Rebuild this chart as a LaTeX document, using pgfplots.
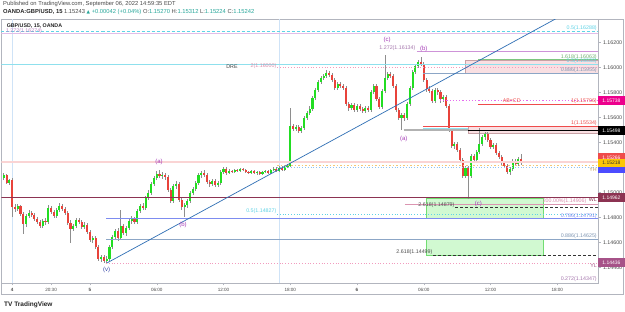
\documentclass[border=0pt]{standalone}
\usepackage{pgfplots}
\pgfplotsset{compat=1.18}
\usepackage{pgfplotstable}
\usepackage{fontspec}
\setmainfont{Liberation Sans}
\newfontfamily\dejavu{DejaVu Sans}
\definecolor{up}{HTML}{22DD22}
\definecolor{dn}{HTML}{E8433B}
\definecolor{wick}{HTML}{8E8E8E}
\definecolor{tvcyan}{HTML}{5FD3E6}
\definecolor{tvpurple}{HTML}{CE93D8}
\definecolor{wavep}{HTML}{A63DB8}
\definecolor{wavev}{HTML}{3646A8}
\definecolor{fibgreen}{HTML}{7CC67F}
\definecolor{bluegray}{HTML}{8CA6C6}
\definecolor{periw}{HTML}{7D8CF0}
\definecolor{pinkdot}{HTML}{F29BBE}
\definecolor{magdot}{HTML}{E66CF0}
\definecolor{tvred}{HTML}{EF4B4B}
\definecolor{wlmaroon}{HTML}{8C3352}
\definecolor{mauve}{HTML}{A65288}
\definecolor{boxgreen}{HTML}{C9F8C9}
\definecolor{boxgreenb}{HTML}{72DD72}
\definecolor{boxpink}{HTML}{F8D8DB}
\definecolor{boxpinkb}{HTML}{C8A2A6}
\definecolor{axisgray}{HTML}{B2B5BE}
\definecolor{txtgray}{HTML}{4A4A4A}
\definecolor{tvteal}{HTML}{26A69A}
\definecolor{yeldot}{HTML}{F5C878}
\definecolor{bluedot}{HTML}{8EC3F5}
\definecolor{lpink}{HTML}{FAD4D4}
\definecolor{session}{HTML}{CFE3F7}
\newcommand{\fibfont}{\fontsize{5.3}{6}\selectfont}
\newcommand{\ticfont}{\fontsize{5.3}{6}\selectfont}
\newcommand{\timefont}{\fontsize{4.6}{5}\selectfont}
\newcommand{\wavefont}{\fontsize{6}{7}\selectfont}
\pgfplotstableread{
t o h l c
-7.75 1.15118 1.15158 1.15102 1.15142
-7.5 1.15142 1.15150 1.15070 1.15078
-7.25 1.15078 1.15110 1.15062 1.15102
-7 1.15102 1.15118 1.14806 1.14886
-6.75 1.14886 1.14910 1.14846 1.14870
-6.5 1.14870 1.14910 1.14854 1.14894
-6.25 1.14894 1.14902 1.14814 1.14830
-6 1.14830 1.14846 1.14670 1.14750
-5.75 1.14750 1.14830 1.14726 1.14814
-5.5 1.14814 1.14862 1.14798 1.14838
-5.25 1.14838 1.14854 1.14806 1.14822
-5 1.14822 1.14838 1.14774 1.14790
-4.75 1.14790 1.14806 1.14750 1.14766
-4.5 1.14766 1.14782 1.14718 1.14734
-4.25 1.14734 1.14790 1.14718 1.14774
-4 1.14774 1.14798 1.14742 1.14766
-3.75 1.14766 1.14902 1.14750 1.14878
-3.5 1.14878 1.14894 1.14830 1.14846
-3.25 1.14846 1.14862 1.14798 1.14814
-3 1.14814 1.14878 1.14798 1.14862
-2.75 1.14862 1.14918 1.14846 1.14894
-2.5 1.14894 1.14910 1.14854 1.14870
-2.25 1.14870 1.14886 1.14822 1.14838
-2 1.14838 1.14854 1.14742 1.14758
-1.75 1.14758 1.14782 1.14598 1.14710
-1.5 1.14710 1.14750 1.14694 1.14734
-1.25 1.14734 1.14798 1.14718 1.14782
-1 1.14782 1.14798 1.14750 1.14766
-0.75 1.14766 1.14782 1.14710 1.14726
-0.5 1.14726 1.14766 1.14710 1.14742
-0.25 1.14742 1.14758 1.14670 1.14686
0 1.14686 1.14702 1.14606 1.14622
0.25 1.14622 1.14654 1.14598 1.14638
0.5 1.14638 1.14654 1.14550 1.14566
0.75 1.14566 1.14582 1.14454 1.14470
1 1.14470 1.14502 1.14446 1.14486
1.25 1.14486 1.14502 1.14438 1.14454
1.5 1.14454 1.14494 1.14438 1.14470
1.75 1.14470 1.14582 1.14454 1.14566
2 1.14566 1.14662 1.14550 1.14646
2.25 1.14646 1.14710 1.14630 1.14694
2.5 1.14694 1.14718 1.14614 1.14638
2.75 1.14638 1.14862 1.14622 1.14734
3 1.14734 1.14750 1.14662 1.14678
3.25 1.14678 1.14734 1.14654 1.14718
3.5 1.14718 1.14798 1.14702 1.14774
3.75 1.14774 1.14814 1.14750 1.14790
4 1.14790 1.14806 1.14750 1.14766
4.25 1.14766 1.14870 1.14750 1.14854
4.5 1.14854 1.14910 1.14838 1.14894
4.75 1.14894 1.14918 1.14862 1.14878
5 1.14878 1.14974 1.14862 1.14958
5.25 1.14958 1.15022 1.14942 1.14998
5.5 1.14998 1.15086 1.14982 1.15070
5.75 1.15070 1.15134 1.15054 1.15118
6 1.15118 1.15174 1.15102 1.15150
6.25 1.15150 1.15182 1.15118 1.15134
6.5 1.15134 1.15166 1.15110 1.15142
6.75 1.15142 1.15158 1.15102 1.15126
7 1.15126 1.15142 1.15006 1.15022
7.25 1.15022 1.15038 1.14918 1.14934
7.5 1.14934 1.15070 1.14918 1.15054
7.75 1.15054 1.15094 1.15030 1.15070
8 1.15070 1.15086 1.14926 1.14942
8.25 1.14942 1.14958 1.14862 1.14886
8.5 1.14886 1.14918 1.14806 1.14902
8.75 1.14902 1.14950 1.14878 1.14934
9 1.14934 1.15014 1.14918 1.14998
9.25 1.14998 1.15046 1.14982 1.15030
9.5 1.15030 1.15094 1.15014 1.15078
9.75 1.15078 1.15158 1.15062 1.15142
10 1.15142 1.15174 1.15118 1.15158
10.25 1.15158 1.15182 1.15126 1.15142
10.5 1.15142 1.15158 1.15070 1.15086
10.75 1.15086 1.15102 1.15046 1.15070
11 1.15070 1.15110 1.15054 1.15094
11.25 1.15094 1.15110 1.15046 1.15062
11.5 1.15062 1.15094 1.15046 1.15078
11.75 1.15078 1.15182 1.15062 1.15166
12 1.15166 1.15206 1.15150 1.15190
12.25 1.15190 1.15206 1.15142 1.15158
12.5 1.15158 1.15190 1.15150 1.15174
12.75 1.15174 1.15182 1.15158 1.15166
13 1.15166 1.15190 1.15158 1.15182
13.25 1.15182 1.15190 1.15166 1.15174
13.5 1.15174 1.15198 1.15166 1.15190
13.75 1.15190 1.15198 1.15174 1.15182
14 1.15182 1.15190 1.15158 1.15166
14.25 1.15166 1.15174 1.15150 1.15158
14.5 1.15158 1.15182 1.15150 1.15174
14.75 1.15174 1.15182 1.15150 1.15158
15 1.15158 1.15174 1.15142 1.15166
15.25 1.15166 1.15174 1.15142 1.15150
15.5 1.15150 1.15174 1.15142 1.15166
15.75 1.15166 1.15182 1.15158 1.15174
16 1.15174 1.15182 1.15150 1.15158
16.25 1.15158 1.15190 1.15150 1.15182
16.5 1.15182 1.15206 1.15174 1.15190
16.75 1.15190 1.15206 1.15166 1.15174
17 1.15174 1.15214 1.15166 1.15198
17.25 1.15198 1.15214 1.15174 1.15182
17.5 1.15182 1.15222 1.15174 1.15206
17.75 1.15206 1.15230 1.15198 1.15214
18 1.15214 1.15678 1.15206 1.15534
18.25 1.15534 1.15550 1.15494 1.15510
18.5 1.15510 1.15542 1.15494 1.15526
18.75 1.15526 1.15542 1.15478 1.15494
19 1.15494 1.15534 1.15478 1.15518
19.25 1.15518 1.15614 1.15502 1.15598
19.5 1.15598 1.15654 1.15582 1.15638
19.75 1.15638 1.15694 1.15622 1.15670
20 1.15670 1.15774 1.15654 1.15758
20.25 1.15758 1.15838 1.15742 1.15822
20.5 1.15822 1.15902 1.15806 1.15886
20.75 1.15886 1.15934 1.15870 1.15918
21 1.15918 1.15950 1.15902 1.15934
21.25 1.15934 1.15982 1.15918 1.15958
21.5 1.15958 1.15974 1.15926 1.15942
21.75 1.15942 1.15958 1.15886 1.15902
22 1.15902 1.15918 1.15822 1.15838
22.25 1.15838 1.15886 1.15822 1.15870
22.5 1.15870 1.15886 1.15838 1.15854
22.75 1.15854 1.15870 1.15822 1.15838
23 1.15838 1.15854 1.15694 1.15710
23.25 1.15710 1.15726 1.15654 1.15678
23.5 1.15678 1.15718 1.15662 1.15702
23.75 1.15702 1.15718 1.15646 1.15662
24 1.15662 1.15710 1.15646 1.15694
24.25 1.15694 1.15710 1.15654 1.15670
24.5 1.15670 1.15686 1.15638 1.15654
24.75 1.15654 1.15694 1.15638 1.15678
25 1.15678 1.15694 1.15646 1.15662
25.25 1.15662 1.15822 1.15646 1.15806
25.5 1.15806 1.15870 1.15790 1.15854
25.75 1.15854 1.15870 1.15734 1.15750
26 1.15750 1.15766 1.15670 1.15686
26.25 1.15686 1.15830 1.15670 1.15814
26.5 1.15814 1.16102 1.15798 1.15918
26.75 1.15918 1.15966 1.15902 1.15950
27 1.15950 1.15966 1.15918 1.15934
27.25 1.15934 1.15950 1.15838 1.15854
27.5 1.15854 1.15870 1.15646 1.15662
27.75 1.15662 1.15678 1.15582 1.15598
28 1.15598 1.15638 1.15502 1.15622
28.25 1.15622 1.15638 1.15574 1.15598
28.5 1.15598 1.15726 1.15582 1.15710
28.75 1.15710 1.15854 1.15694 1.15838
29 1.15838 1.15982 1.15822 1.15966
29.25 1.15966 1.16030 1.15950 1.16014
29.5 1.16014 1.16062 1.15998 1.16046
29.75 1.16046 1.16086 1.16014 1.16030
30 1.16030 1.16046 1.15886 1.15902
30.25 1.15902 1.15918 1.15806 1.15830
30.5 1.15830 1.15854 1.15798 1.15814
30.75 1.15814 1.15830 1.15718 1.15734
31 1.15734 1.15838 1.15718 1.15822
31.25 1.15822 1.15838 1.15782 1.15806
31.5 1.15806 1.15822 1.15718 1.15750
31.75 1.15750 1.15782 1.15726 1.15766
32 1.15766 1.15782 1.15678 1.15694
32.25 1.15694 1.15710 1.15486 1.15502
32.5 1.15502 1.15518 1.15358 1.15374
32.75 1.15374 1.15406 1.15350 1.15390
33 1.15390 1.15406 1.15326 1.15342
33.25 1.15342 1.15358 1.15246 1.15262
33.5 1.15262 1.15278 1.15118 1.15134
33.75 1.15134 1.15214 1.15118 1.15198
34 1.15198 1.15214 1.14950 1.15134
34.25 1.15134 1.15310 1.15118 1.15294
34.5 1.15294 1.15310 1.15246 1.15262
34.75 1.15262 1.15342 1.15246 1.15326
35 1.15326 1.15518 1.15310 1.15390
35.25 1.15390 1.15462 1.15374 1.15446
35.5 1.15446 1.15486 1.15422 1.15470
35.75 1.15470 1.15486 1.15406 1.15422
36 1.15422 1.15438 1.15350 1.15366
36.25 1.15366 1.15398 1.15350 1.15382
36.5 1.15382 1.15398 1.15302 1.15318
36.75 1.15318 1.15334 1.15270 1.15286
37 1.15286 1.15302 1.15222 1.15238
37.25 1.15238 1.15254 1.15198 1.15214
37.5 1.15214 1.15230 1.15150 1.15166
37.75 1.15166 1.15206 1.15142 1.15190
38 1.15190 1.15270 1.15174 1.15254
38.25 1.15254 1.15270 1.15214 1.15230
38.5 1.15230 1.15286 1.15214 1.15270
38.75 1.15270 1.15312 1.15224 1.15242
}\candles
\newcommand{\flab}[4][south east]{\node[anchor=#1, font=\fibfont, text=#2, inner sep=0.4pt] at (axis cs:45.6,#3) {#4};}
\newcommand{\hlev}[4]{\addplot[#1] coordinates {(#2,#4) (#3,#4)};}
\newcommand{\pbox}[4]{\node[anchor=west, fill=#1, text=#2, font=\fontsize{5}{5}\selectfont, inner sep=0pt, minimum width=26.5pt, minimum height=8.4pt] at (axis cs:45.66,#3) {#4};}
\begin{document}
\begin{tikzpicture}
\path[use as bounding box] (0pt,0pt) rectangle (625pt,312pt);
\fill[white] (0pt,0pt) rectangle (625pt,312pt);
% header
\node[anchor=west, inner sep=0pt, text=txtgray, font=\fontsize{5.8}{6}\selectfont] at (3pt,307.5pt) {Published on TradingView.com, September 06, 2022 14:59:35 EDT};
\node[anchor=west, inner sep=0pt, text=txtgray, font=\fontsize{5.8}{6}\selectfont] at (3pt,300pt) {\textbf{\color{black!85}OANDA:GBP/USD, 15} 1.15243 {\color{tvteal}\dejavu\fontsize{4.5}{5}\selectfont ▲} {\color{tvteal}+0.00042 (+0.04\%)} O:{\color{tvteal}1.15270} H:{\color{tvteal}1.15312} L:{\color{tvteal}1.15224} C:{\color{tvteal}1.15242}};
% outer frame
\draw[axisgray, line width=0.5pt] (1.5pt,18pt) rectangle (623.5pt,292.5pt);
\begin{axis}[
 at={(1.5pt,29pt)}, anchor=south west, width=596.5pt, height=263.5pt, scale only axis,
 xmin=-7.955, xmax=45.66, ymin=1.142776, ymax=1.163856,
 clip mode=individual,
 axis line style={draw=axisgray, line width=0.5pt},
 ytick={1.144,1.146,1.148,1.150,1.152,1.154,1.156,1.158,1.160,1.162},
 ytick pos=right, yticklabel pos=right,
 scaled y ticks=false,
 yticklabel style={/pgf/number format/.cd, fixed, fixed zerofill, precision=5, assume math mode=true, /tikz/.cd, font=\ticfont, text=txtgray, xshift=-1pt},
 xtick={-7,-3.5,0,6,12,18,24,30,36,42},
 xticklabels={\textbf{4},20:30,\textbf{5},06:00,12:00,18:00,\textbf{6},06:00,12:00,18:00},
 xtick pos=bottom,
 xticklabel style={font=\timefont, text=txtgray, yshift=1pt},
 tick align=outside, major tick length=2.5pt,
 tick style={draw=axisgray, line width=0.4pt},
]
% session breaks
\addplot[session, line width=0.6pt] coordinates {(-7,1.142776) (-7,1.163856)};
\addplot[session, line width=0.6pt] coordinates {(17,1.142776) (17,1.163856)};
% boxes
\addplot[fill=boxpink, draw=boxpinkb, line width=0.5pt, fill opacity=0.8] coordinates {(33.71,1.15955) (45.66,1.15955) (45.66,1.16063) (33.71,1.16063)} -- cycle;
\addplot[fill=boxpink, draw=boxpinkb, line width=0.5pt, fill opacity=0.8] coordinates {(33.98,1.15478) (45.66,1.15478) (45.66,1.15534) (33.98,1.15534)} -- cycle;
\addplot[fill=boxgreen, draw=boxgreenb, line width=0.5pt, fill opacity=0.85] coordinates {(30.2,1.14798) (40.72,1.14798) (40.72,1.14958) (30.2,1.14958)} -- cycle;
\addplot[fill=boxgreen, draw=boxgreenb, line width=0.5pt, fill opacity=0.85] coordinates {(30.2,1.14502) (40.72,1.14502) (40.72,1.14630) (30.2,1.14630)} -- cycle;
% candles
\addplot[draw=none, mark=none, error bars/.cd, y dir=both, y explicit, error mark=none, error bar style={line width=0.6pt, draw=wick}]
 table[x=t, y expr={0.5*(\thisrow{h}+\thisrow{l})}, y error expr={0.5*(\thisrow{h}-\thisrow{l})}] {\candles};
\addplot[draw=none, mark=none, restrict y to domain=1:2, error bars/.cd, y dir=both, y explicit, error mark=none, error bar style={line width=2.1pt, draw=up}]
 table[x=t, y expr={\thisrow{c}>\thisrow{o} ? 0.5*(\thisrow{o}+\thisrow{c}) : -5}, y error expr={0.5*abs(\thisrow{c}-\thisrow{o})}] {\candles};
\addplot[draw=none, mark=none, restrict y to domain=1:2, error bars/.cd, y dir=both, y explicit, error mark=none, error bar style={line width=2.1pt, draw=dn}]
 table[x=t, y expr={\thisrow{c}<\thisrow{o} ? 0.5*(\thisrow{o}+\thisrow{c}) : -5}, y error expr={0.5*abs(\thisrow{c}-\thisrow{o})}] {\candles};
% horizontal levels
\hlev{tvcyan, dashed, dash pattern=on 3pt off 2pt, line width=0.7pt}{-7.955}{45.66}{1.16288}
\hlev{tvpurple!60, line width=0.6pt}{-7.955}{45.66}{1.16274}
\hlev{tvpurple, line width=0.7pt}{29.39}{45.66}{1.16134}
\hlev{fibgreen, line width=0.8pt}{34.88}{45.66}{1.16063}
\hlev{tvcyan!70, line width=0.8pt}{-7.955}{45.66}{1.16030}
\hlev{pinkdot, dotted, line width=0.8pt}{16.81}{45.66}{1.16000}
\hlev{bluegray, line width=0.7pt}{29.93}{45.66}{1.15955}
\hlev{magdot, dotted, line width=1.2pt}{31.46}{45.66}{1.15738}
\hlev{tvred, line width=0.8pt}{34.88}{45.66}{1.15706}
\hlev{tvred, line width=0.7pt}{29.93}{45.66}{1.15534}
\hlev{tvcyan!70, line width=0.8pt}{29.93}{33.98}{1.15518}
\hlev{black!30, line width=1.2pt}{28.22}{33.98}{1.15502}
\hlev{black, line width=0.6pt}{33.98}{45.66}{1.15498}
\hlev{lpink, line width=1.2pt}{-7.955}{45.66}{1.15246}
\hlev{yeldot, dotted, line width=1.5pt}{16.81}{45.66}{1.15218}
\hlev{bluedot, dotted, line width=0.8pt}{16.81}{45.66}{1.15202}
\hlev{wlmaroon, line width=0.8pt}{-7.955}{45.66}{1.14962}
\hlev{pinkdot!80!gray, line width=0.6pt}{28.31}{45.66}{1.14906}
\hlev{black!80, dashed, dash pattern=on 3pt off 2pt, line width=0.7pt}{32.81}{45.66}{1.14879}
\hlev{tvcyan, dotted, line width=0.8pt}{16.81}{45.66}{1.14827}
\hlev{periw, line width=0.7pt}{1.44}{45.66}{1.14791}
\hlev{bluegray, line width=0.7pt}{1.44}{45.66}{1.14625}
\hlev{black!80, dashed, dash pattern=on 3pt off 2pt, line width=0.7pt}{30.83}{45.66}{1.14499}
\hlev{pinkdot, dotted, line width=0.8pt}{1.44}{45.66}{1.14436}
% trend line
\addplot[color={rgb,255:red,47;green,111;blue,181}, line width=0.7pt] coordinates {(1.53,1.14438) (45.66,1.16575)};
% fib labels
\flab{tvcyan}{1.16288}{0.5(1.16288)}
\flab{fibgreen!90!black}{1.16063}{1.618(1.16063)}
\flab{tvcyan}{1.16030}{0.5(1.16030)}
\flab{bluegray!90!black}{1.15955}{0.886(1.15955)}
\flab{tvred}{1.15706}{1(1.15706)}
\flab{tvred}{1.15534}{1(1.15534)}
\flab[north east]{yeldot!80!black}{1.15206}{YH}
\node[anchor=south east, font=\fibfont, text=pinkdot!90!black, inner sep=0.4pt] at (axis cs:44.67,1.14906) {200.00\%(1.14906)};
\flab[north east]{wlmaroon}{1.14962}{WL}
\flab{periw}{1.14791}{0.786(1.14791)}
\flab{bluegray!90!black}{1.14625}{0.886(1.14625)}
\flab[north east]{mauve}{1.14436}{YL}
\flab{tvpurple!80!black}{1.14280}{0.272(1.14347)}
% inline labels
\node[anchor=south west, font=\fibfont, text=tvpurple!90!black, inner sep=0.4pt] at (axis cs:-7.6,1.16270) {1.272(1.16274)};
\node[anchor=south east, font=\fibfont, text=tvpurple!80!black, inner sep=0.4pt] at (axis cs:29.3,1.16134) {1.272(1.16134)};
\node[anchor=east, font=\fibfont, text=pinkdot!90!black, inner sep=0.4pt] at (axis cs:16.8,1.16010) {2(1.16000)};
\node[font=\fibfont, text=black!75, inner sep=0.4pt] at (axis cs:12.76,1.16010) {DRE};
\node[anchor=south east, font=\fibfont, text=tvcyan, inner sep=0.4pt] at (axis cs:16.8,1.14827) {0.5(1.14827)};
\node[anchor=south east, font=\fibfont, text=black!70, inner sep=0.4pt] at (axis cs:32.81,1.14879) {2.618(1.14879)};
\node[anchor=south east, font=\fibfont, text=black!70, inner sep=0.4pt] at (axis cs:30.83,1.14499) {2.618(1.14499)};
\node[font=\fibfont, text=tvred, inner sep=0.4pt] at (axis cs:37.9,1.15734) {AB=CD};
% wave labels
\node[font=\wavefont, text=wavev] at (axis cs:1.5,1.14382) {(v)};
\node[font=\wavefont, text=wavep] at (axis cs:6.2,1.15246) {(a)};
\node[font=\wavefont, text=wavep] at (axis cs:8.36,1.14742) {(b)};
\node[font=\wavefont, text=wavep] at (axis cs:28.2,1.15430) {(a)};
\node[font=\wavefont, text=wavep] at (axis cs:30.0,1.16150) {(b)};
\node[font=\wavefont, text=wavep, inner sep=0pt] at (axis cs:26.7,1.16224) {(c)};
\node[font=\wavefont, text=wavep] at (axis cs:34.9,1.14910) {(c)};
% chart title
\node[anchor=west, font=\fontsize{5.3}{6}\selectfont\bfseries, text=black!85, inner sep=0pt] at (axis cs:-7.5,1.16334) {GBP/USD, 15, OANDA};
% price boxes
\pbox{magenta}{white}{1.15738}{1.15738}
\pbox{black}{white}{1.15498}{1.15498}
\pbox{blue!70}{white}{1.15192}{}
\pbox{tvred}{white}{1.15280}{1.15266}
\pbox{yellow!60!orange}{black!80}{1.15236}{1.15218}
\pbox{wlmaroon}{white}{1.14960}{1.14962}
\pbox{mauve}{white}{1.14440}{1.14436}
\end{axis}
% logo
\node[anchor=west, inner sep=0pt, font=\fontsize{6.5}{7}\selectfont\bfseries, text=black!85] at (4pt,7pt) {TV\ TradingView};
\end{tikzpicture}
\end{document}
